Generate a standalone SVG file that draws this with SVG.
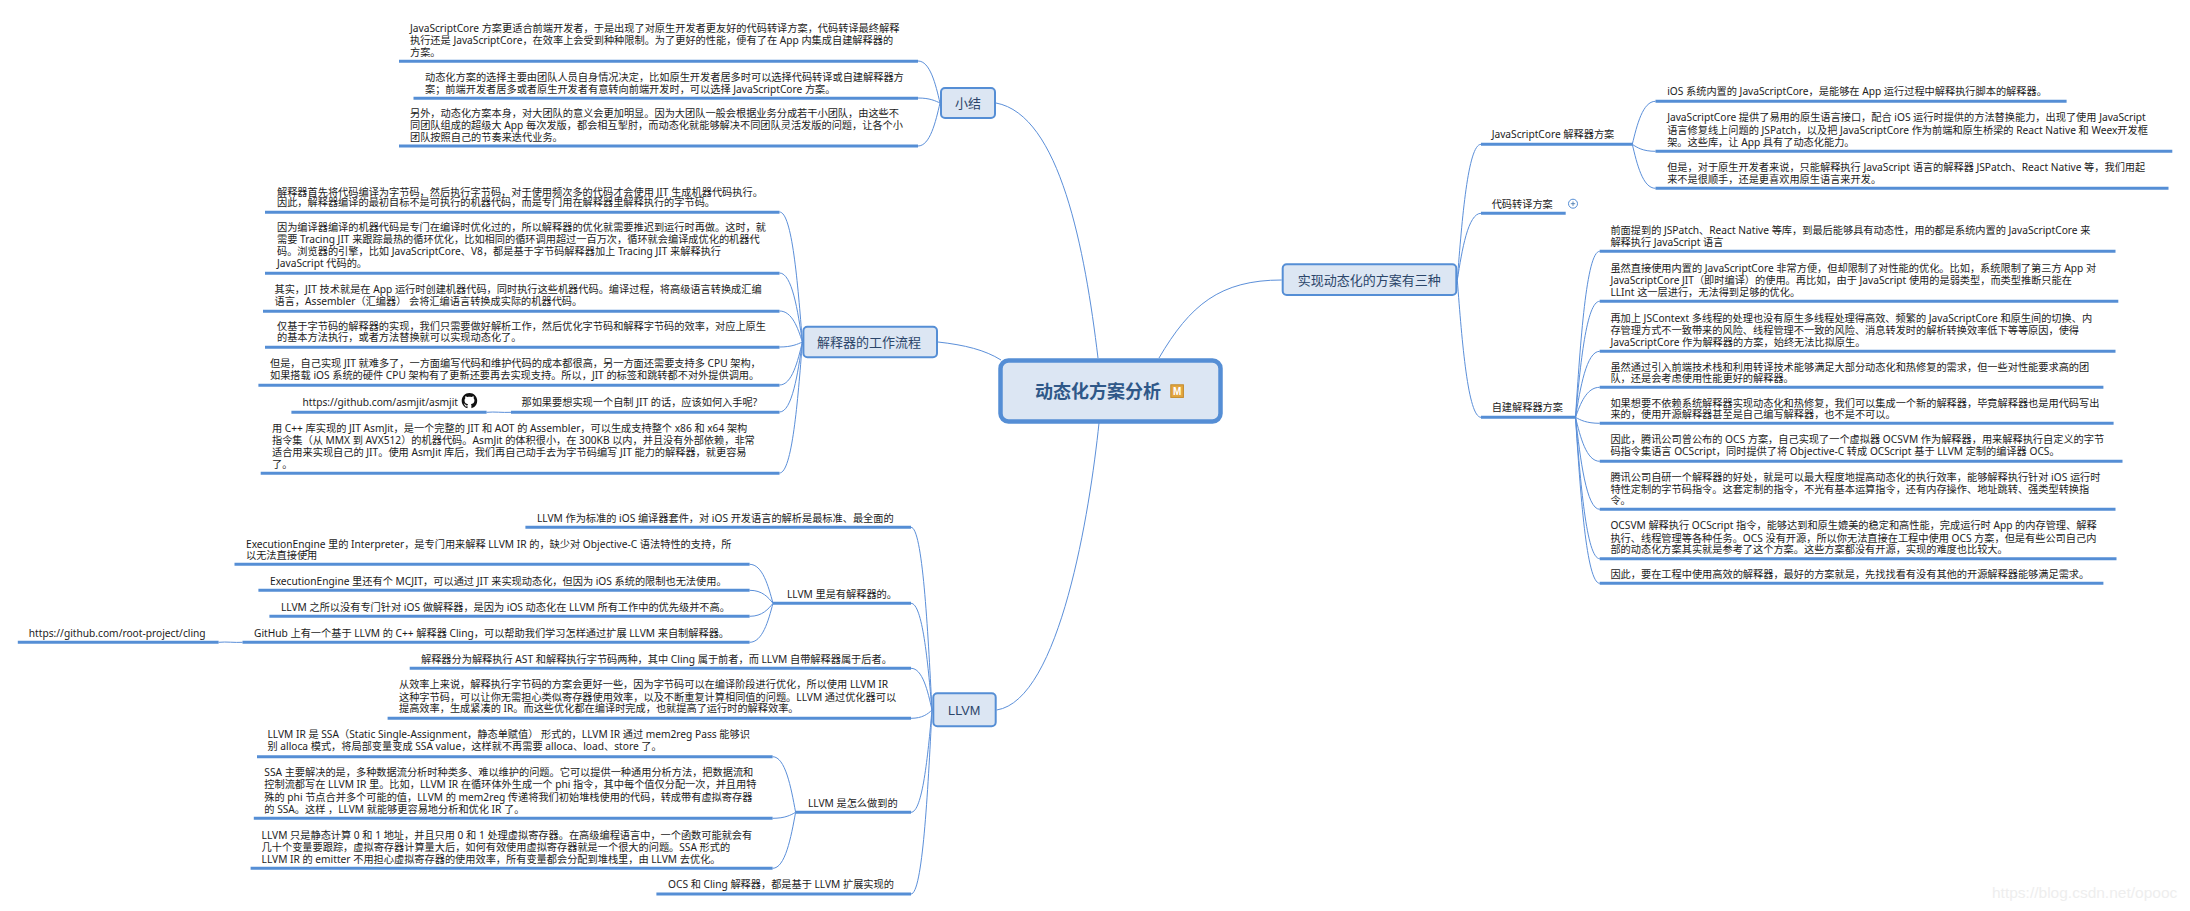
<svg xmlns="http://www.w3.org/2000/svg" width="2190" height="911" viewBox="0 0 2190 911">
<style>
text{font-family:"Liberation Sans","Noto Sans CJK SC",sans-serif}
.t{font-family:"Noto Sans","Noto Sans CJK SC",sans-serif;font-size:10.2px;fill:#1c1c1c}
.u{stroke:#558ed5;stroke-width:3;fill:none}
.c{stroke:#5b8fd9;stroke-width:1;fill:none}
.n{fill:#dce6f3;stroke:#558ed5;stroke-width:2}
.h{font-size:13px;fill:#2b4569;text-anchor:middle}
</style>
<rect width="2190" height="911" fill="#fff"/>
<g id="connectors">
<path class="c" d="M1098 358C1085 250 1060 115 996 103"/>
<path class="c" d="M1001 360C985 350 965 345 938 342"/>
<path class="c" d="M1159 358C1190 305 1220 280 1281.7 280"/>
<path class="c" d="M1099 423C1090 510 1060 700 996.7 710"/>
<path class="c" d="M940 103C935.6 84 930 61 918 61"/>
<path class="c" d="M940 103C935.6 101 930 98 918 98"/>
<path class="c" d="M940 103C935.6 122 930 146 918 146"/>
<path class="c" d="M802.4 342C797.8 283.5 792.1 212 779.5 212"/>
<path class="c" d="M802.4 342C797.8 311 792.1 273 779.5 273"/>
<path class="c" d="M802.4 342C797.8 328 792.1 311 779.5 311"/>
<path class="c" d="M802.4 342C797.8 344 792.1 347 779.5 347"/>
<path class="c" d="M802.4 342C797.8 361 792.1 385 779.5 385"/>
<path class="c" d="M802.4 342C797.8 373.5 792.1 412 779.5 412"/>
<path class="c" d="M802.4 342C797.8 401 792.1 473 779.5 473"/>
<path class="c" d="M486.6 412.3C495 411.5 502 412.8 511 412.3"/>
<path class="c" d="M932 710C927.8 628 922.5 527.3 911 527.3"/>
<path class="c" d="M932 710C927.8 662 922.5 603.3 911 603.3"/>
<path class="c" d="M932 710C927.8 691 922.5 668.3 911 668.3"/>
<path class="c" d="M932 710C927.8 714 922.5 718.3 911 718.3"/>
<path class="c" d="M932 710C927.8 756 922.5 812.3 911 812.3"/>
<path class="c" d="M932 710C927.8 793 922.5 894 911 894"/>
<path class="c" d="M773 603.3C768.3 586 762.5 564.3 749.6 564.3"/>
<path class="c" d="M773 603.3C768.3 597.5 762.5 590.3 749.6 590.3"/>
<path class="c" d="M773 603.3C768.3 609 762.5 616.3 749.6 616.3"/>
<path class="c" d="M773 603.3C768.3 621 762.5 642.3 749.6 642.3"/>
<path class="c" d="M218.6 642.3C227 641.5 234 642.8 242.5 642.3"/>
<path class="c" d="M795.6 812.3C791 787 785.2 756.7 772.6 756.7"/>
<path class="c" d="M795.6 812.3C791 815 785.2 818.3 772.6 818.3"/>
<path class="c" d="M795.6 812.3C791 837.5 785.2 868.3 772.6 868.3"/>
<path class="c" d="M1457.3 280C1462 219 1468 144.3 1481 144.3"/>
<path class="c" d="M1457.3 280C1462 250 1468 213.3 1481 213.3"/>
<path class="c" d="M1457.3 280C1462 342 1468 417.3 1481 417.3"/>
<path class="c" d="M1632.3 144.3C1637 125 1642.7 101.3 1655.5 101.3"/>
<path class="c" d="M1632.3 144.3C1637 147.5 1642.7 151.3 1655.5 151.3"/>
<path class="c" d="M1632.3 144.3C1637 164 1642.7 188.3 1655.5 188.3"/>
<path class="c" d="M1575.5 417.3C1580.3 343 1586.4 251.3 1599.7 251.3"/>
<path class="c" d="M1575.5 417.3C1580.3 365 1586.4 301.3 1599.7 301.3"/>
<path class="c" d="M1575.5 417.3C1580.3 388 1586.4 351.3 1599.7 351.3"/>
<path class="c" d="M1575.5 417.3C1580.3 404 1586.4 387.3 1599.7 387.3"/>
<path class="c" d="M1575.5 417.3C1580.3 420 1586.4 423.3 1599.7 423.3"/>
<path class="c" d="M1575.5 417.3C1580.3 437 1586.4 461.3 1599.7 461.3"/>
<path class="c" d="M1575.5 417.3C1580.3 459 1586.4 509.3 1599.7 509.3"/>
<path class="c" d="M1575.5 417.3C1580.3 481 1586.4 558.7 1599.7 558.7"/>
<path class="c" d="M1575.5 417.3C1580.3 492 1586.4 583.3 1599.7 583.3"/>
</g>
<g id="root"><rect x="1000.5" y="360.5" width="220" height="61" rx="8" fill="#dce6f3" stroke="#558ed5" stroke-width="4.5"/><text x="1098" y="398" font-size="18" font-weight="700" fill="#2f5888" text-anchor="middle">动态化方案分析</text><rect x="1170.8" y="384.8" width="12.6" height="12.6" fill="#e3a63f" stroke="#c48a28"/><text x="1177.1" y="395" font-size="10" font-weight="700" fill="#fff" text-anchor="middle">M</text></g>
<g id="xiaojie"><rect class="n" x="941" y="88" width="54" height="30" rx="4"/><text class="h" x="968" y="107.5">小结</text></g>
<g id="xj1"><text class="t"><tspan x="410" y="32">JavaScriptCore 方案更适合前端开发者，于是出现了对原生开发者更友好的代码转译方案，代码转译最终解释</tspan><tspan x="410" y="44">执行还是 JavaScriptCore，在效率上会受到种种限制。为了更好的性能，便有了在 App 内集成自建解释器的</tspan><tspan x="410" y="56">方案。</tspan></text><line class="u" x1="399" y1="61.3" x2="918" y2="61.3"/></g>
<g id="xj2"><text class="t"><tspan x="425" y="81">动态化方案的选择主要由团队人员自身情况决定，比如原生开发者居多时可以选择代码转译或自建解释器方</tspan><tspan x="425" y="92.5">案；前端开发者居多或者原生开发者有意转向前端开发时，可以选择 JavaScriptCore 方案。</tspan></text><line class="u" x1="413.5" y1="98.3" x2="918" y2="98.3"/></g>
<g id="xj3"><text class="t"><tspan x="410" y="117">另外，动态化方案本身，对大团队的意义会更加明显。因为大团队一般会根据业务分成若干小团队，由这些不</tspan><tspan x="410" y="129">同团队组成的超级大 App 每次发版，都会相互掣肘，而动态化就能够解决不同团队灵活发版的问题，让各个小</tspan><tspan x="410" y="141">团队按照自己的节奏来迭代业务。</tspan></text><line class="u" x1="399" y1="146" x2="918" y2="146"/></g>
<g id="jieshi"><rect class="n" x="803.4" y="326.7" width="133.6" height="30.6" rx="4"/><text class="h" x="869" y="347">解释器的工作流程</text></g>
<g id="js1"><text class="t"><tspan x="277" y="195.5">解释器首先将代码编译为字节码，然后执行字节码，对于使用频次多的代码才会使用 JIT 生成机器代码执行。</tspan><tspan x="277" y="206">因此，解释器编译的最初目标不是可执行的机器代码，而是专门用在解释器里解释执行的字节码。</tspan></text><line class="u" x1="265" y1="212.3" x2="779.5" y2="212.3"/></g>
<g id="js2"><text class="t"><tspan x="277" y="231">因为编译器编译的机器代码是专门在编译时优化过的，所以解释器的优化就需要推迟到运行时再做。这时，就</tspan><tspan x="277" y="243">需要 Tracing JIT 来跟踪最热的循环优化，比如相同的循环调用超过一百万次，循环就会编译成优化的机器代</tspan><tspan x="277" y="255">码。浏览器的引擎，比如 JavaScriptCore、V8，都是基于字节码解释器加上 Tracing JIT 来解释执行</tspan><tspan x="277" y="267">JavaScript 代码的。</tspan></text><line class="u" x1="265" y1="273.3" x2="779.5" y2="273.3"/></g>
<g id="js3"><text class="t"><tspan x="274.5" y="293">其实，JIT 技术就是在 App 运行时创建机器代码，同时执行这些机器代码。编译过程，将高级语言转换成汇编</tspan><tspan x="274.5" y="305">语言，Assembler（汇编器） 会将汇编语言转换成实际的机器代码。</tspan></text><line class="u" x1="263" y1="311.3" x2="779.5" y2="311.3"/></g>
<g id="js4"><text class="t"><tspan x="277" y="330">仅基于字节码的解释器的实现，我们只需要做好解析工作，然后优化字节码和解释字节码的效率，对应上原生</tspan><tspan x="277" y="341">的基本方法执行，或者方法替换就可以实现动态化了。</tspan></text><line class="u" x1="265" y1="347.3" x2="779.5" y2="347.3"/></g>
<g id="js5"><text class="t"><tspan x="270" y="367">但是，自己实现 JIT 就难多了，一方面编写代码和维护代码的成本都很高，另一方面还需要支持多 CPU 架构，</tspan><tspan x="270" y="379">如果搭载 iOS 系统的硬件 CPU 架构有了更新还要再去实现支持。所以，JIT 的标签和跳转都不对外提供调用。</tspan></text><line class="u" x1="258.4" y1="385.3" x2="779.5" y2="385.3"/></g>
<g id="js6"><text class="t" x="521.5" y="406">那如果要想实现一个自制 JIT 的话，应该如何入手呢?</text><line class="u" x1="511" y1="412.3" x2="779.5" y2="412.3"/></g>
<g id="asmjit"><text class="t" x="302.5" y="406">https://github.com/asmjit/asmjit</text><path transform="translate(461.7 393) scale(.97)" fill="#111" d="M8 0C3.58 0 0 3.58 0 8c0 3.54 2.29 6.53 5.47 7.59.4.07.55-.17.55-.38 0-.19-.01-.82-.01-1.49-2.01.37-2.53-.49-2.69-.94-.09-.23-.48-.94-.82-1.13-.28-.15-.68-.52-.01-.53.63-.01 1.08.58 1.23.82.72 1.21 1.87.87 2.33.66.07-.52.28-.87.51-1.07-1.78-.2-3.64-.89-3.64-3.95 0-.87.31-1.59.82-2.15-.08-.2-.36-1.02.08-2.12 0 0 .67-.21 2.2.82.64-.18 1.32-.27 2-.27.68 0 1.36.09 2 .27 1.53-1.04 2.2-.82 2.2-.82.44 1.1.16 1.92.08 2.12.51.56.82 1.27.82 2.15 0 3.07-1.87 3.75-3.65 3.95.29.25.54.73.54 1.48 0 1.07-.01 1.93-.01 2.2 0 .21.15.46.55.38A8.013 8.013 0 0016 8c0-4.42-3.58-8-8-8z"/><line class="u" x1="291.4" y1="412.3" x2="486.6" y2="412.3"/></g>
<g id="js7"><text class="t"><tspan x="272" y="432">用 C++ 库实现的 JIT AsmJit，是一个完整的 JIT 和 AOT 的 Assembler，可以生成支持整个 x86 和 x64 架构</tspan><tspan x="272" y="444">指令集（从 MMX 到 AVX512）的机器代码。AsmJit 的体积很小，在 300KB 以内，并且没有外部依赖，非常</tspan><tspan x="272" y="456">适合用来实现自己的 JIT。使用 AsmJit 库后，我们再自己动手去为字节码编写 JIT 能力的解释器，就更容易</tspan><tspan x="272" y="468">了。</tspan></text><line class="u" x1="260.7" y1="473.3" x2="779.5" y2="473.3"/></g>
<g id="llvm"><rect class="n" x="933.3" y="693.3" width="62.4" height="33" rx="4"/><text class="h" x="964.2" y="714.5" style="font-size:12.7px">LLVM</text></g>
<g id="l1"><text class="t" x="537" y="522">LLVM 作为标准的 iOS 编译器套件，对 iOS 开发语言的解析是最标准、最全面的</text><line class="u" x1="525.4" y1="527.3" x2="911" y2="527.3"/></g>
<g id="l2"><text class="t" x="787" y="597.7">LLVM 里是有解释器的。</text><line class="u" x1="773" y1="603.3" x2="911" y2="603.3"/></g>
<g id="l21"><text class="t"><tspan x="246" y="548">ExecutionEngine 里的 Interpreter，是专门用来解释 LLVM IR 的，缺少对 Objective-C 语法特性的支持，所</tspan><tspan x="246" y="559">以无法直接使用</tspan></text><line class="u" x1="234.5" y1="564.3" x2="749.6" y2="564.3"/></g>
<g id="l22"><text class="t" x="270" y="584.5">ExecutionEngine 里还有个 MCJIT，可以通过 JIT 来实现动态化，但因为 iOS 系统的限制也无法使用。</text><line class="u" x1="258.4" y1="590.3" x2="749.6" y2="590.3"/></g>
<g id="l23"><text class="t" x="281" y="610.5">LLVM 之所以没有专门针对 iOS 做解释器，是因为 iOS 动态化在 LLVM 所有工作中的优先级并不高。</text><line class="u" x1="269.4" y1="616.3" x2="749.6" y2="616.3"/></g>
<g id="l24"><text class="t" x="254" y="636.5">GitHub 上有一个基于 LLVM 的 C++ 解释器 Cling，可以帮助我们学习怎样通过扩展 LLVM 来自制解释器。</text><line class="u" x1="242.5" y1="642.3" x2="749.6" y2="642.3"/></g>
<g id="cling"><text class="t" x="28.8" y="636.5">https://github.com/root-project/cling</text><line class="u" x1="17.8" y1="642.3" x2="218.6" y2="642.3"/></g>
<g id="l3"><text class="t" x="421" y="663">解释器分为解释执行 AST 和解释执行字节码两种，其中 Cling 属于前者，而 LLVM 自带解释器属于后者。</text><line class="u" x1="409.7" y1="668.3" x2="911" y2="668.3"/></g>
<g id="l4"><text class="t"><tspan x="399" y="688">从效率上来说，解释执行字节码的方案会更好一些，因为字节码可以在编译阶段进行优化，所以使用 LLVM IR</tspan><tspan x="399" y="700.5">这种字节码，可以让你无需担心类似寄存器使用效率，以及不断重复计算相同值的问题。LLVM 通过优化器可以</tspan><tspan x="399" y="712">提高效率，生成紧凑的 IR。而这些优化都在编译时完成，也就提高了运行时的解释效率。</tspan></text><line class="u" x1="387.6" y1="718.3" x2="911" y2="718.3"/></g>
<g id="l5"><text class="t" x="808" y="806.5">LLVM 是怎么做到的</text><line class="u" x1="795.6" y1="812.3" x2="911" y2="812.3"/></g>
<g id="l51"><text class="t"><tspan x="267.5" y="738">LLVM IR 是 SSA（Static Single-Assignment，静态单赋值） 形式的，LLVM IR 通过 mem2reg Pass 能够识</tspan><tspan x="267.5" y="750">别 alloca 模式，将局部变量变成 SSA value，这样就不再需要 alloca、load、store 了。</tspan></text><line class="u" x1="257" y1="756.7" x2="772.6" y2="756.7"/></g>
<g id="l52"><text class="t"><tspan x="264.3" y="776">SSA 主要解决的是，多种数据流分析时种类多、难以维护的问题。它可以提供一种通用分析方法，把数据流和</tspan><tspan x="264.3" y="788">控制流都写在 LLVM IR 里。比如，LLVM IR 在循环体外生成一个 phi 指令，其中每个值仅分配一次，并且用特</tspan><tspan x="264.3" y="800.5">殊的 phi 节点合并多个可能的值，LLVM 的 mem2reg 传递将我们初始堆栈使用的代码，转成带有虚拟寄存器</tspan><tspan x="264.3" y="812.5">的 SSA。这样 ，LLVM 就能够更容易地分析和优化 IR 了。</tspan></text><line class="u" x1="253.8" y1="818.3" x2="772.6" y2="818.3"/></g>
<g id="l53"><text class="t"><tspan x="261.6" y="838.5">LLVM 只是静态计算 0 和 1 地址，并且只用 0 和 1 处理虚拟寄存器。在高级编程语言中，一个函数可能就会有</tspan><tspan x="261.6" y="850.5">几十个变量要跟踪，虚拟寄存器计算量大后，如何有效使用虚拟寄存器就是一个很大的问题。SSA 形式的</tspan><tspan x="261.6" y="862.5">LLVM IR 的 emitter 不用担心虚拟寄存器的使用效率，所有变量都会分配到堆栈里，由 LLVM 去优化。</tspan></text><line class="u" x1="250.6" y1="868.3" x2="772.6" y2="868.3"/></g>
<g id="l6"><text class="t" x="668" y="888">OCS 和 Cling 解释器，都是基于 LLVM 扩展实现的</text><line class="u" x1="656.4" y1="894" x2="911" y2="894"/></g>
<g id="three"><rect class="n" x="1282.7" y="264.3" width="173.6" height="30.7" rx="4"/><text class="h" x="1369.3" y="284.5">实现动态化的方案有三种</text></g>
<g id="jsc"><text class="t" x="1491.7" y="138">JavaScriptCore 解释器方案</text><line class="u" x1="1481" y1="144.3" x2="1632.3" y2="144.3"/></g>
<g id="jsc1"><text class="t" x="1667.2" y="95">iOS 系统内置的 JavaScriptCore，是能够在 App 运行过程中解释执行脚本的解释器。</text><line class="u" x1="1655.5" y1="101.3" x2="2066.6" y2="101.3"/></g>
<g id="jsc2"><text class="t"><tspan x="1667.2" y="121">JavaScriptCore 提供了易用的原生语言接口，配合 iOS 运行时提供的方法替换能力，出现了使用 JavaScript</tspan><tspan x="1667.2" y="134">语言修复线上问题的 JSPatch，以及把 JavaScriptCore 作为前端和原生桥梁的 React Native 和 Weex开发框</tspan><tspan x="1667.2" y="146">架。这些库，让 App 具有了动态化能力。</tspan></text><line class="u" x1="1655.5" y1="151.3" x2="2172.3" y2="151.3"/></g>
<g id="jsc3"><text class="t"><tspan x="1667.2" y="171">但是，对于原生开发者来说，只能解释执行 JavaScript 语言的解释器 JSPatch、React Native 等，我们用起</tspan><tspan x="1667.2" y="183">来不是很顺手，还是更喜欢用原生语言来开发。</tspan></text><line class="u" x1="1655.5" y1="188.3" x2="2168.5" y2="188.3"/></g>
<g id="daima"><text class="t" x="1491.7" y="207.5">代码转译方案</text><line class="u" x1="1481" y1="213.3" x2="1565.7" y2="213.3"/><circle cx="1573" cy="203.7" r="4.5" fill="#fff" stroke="#558ed5"/><path d="M1570.8 203.7h4.4M1573 201.5v4.4" stroke="#3a6ea8" stroke-width=".8" fill="none"/></g>
<g id="zijian"><text class="t" x="1491.7" y="411">自建解释器方案</text><line class="u" x1="1481" y1="417.3" x2="1575.5" y2="417.3"/></g>
<g id="z1"><text class="t"><tspan x="1610.4" y="233.5">前面提到的 JSPatch、React Native 等库，到最后能够具有动态性，用的都是系统内置的 JavaScriptCore 来</tspan><tspan x="1610.4" y="245.5">解释执行 JavaScript 语言</tspan></text><line class="u" x1="1599.7" y1="251.3" x2="2115.5" y2="251.3"/></g>
<g id="z2"><text class="t"><tspan x="1610.4" y="271.5">虽然直接使用内置的 JavaScriptCore 非常方便，但却限制了对性能的优化。比如，系统限制了第三方 App 对</tspan><tspan x="1610.4" y="283.5">JavaScriptCore JIT（即时编译）的使用。再比如，由于 JavaScript 使用的是弱类型，而类型推断只能在</tspan><tspan x="1610.4" y="295.5">LLInt 这一层进行，无法得到足够的优化。</tspan></text><line class="u" x1="1599.7" y1="301.3" x2="2118.3" y2="301.3"/></g>
<g id="z3"><text class="t"><tspan x="1610.4" y="321.5">再加上 JSContext 多线程的处理也没有原生多线程处理得高效、频繁的 JavaScriptCore 和原生间的切换、内</tspan><tspan x="1610.4" y="333.5">存管理方式不一致带来的风险、线程管理不一致的风险、消息转发时的解析转换效率低下等等原因，使得</tspan><tspan x="1610.4" y="345.5">JavaScriptCore 作为解释器的方案，始终无法比拟原生。</tspan></text><line class="u" x1="1599.7" y1="351.3" x2="2115.5" y2="351.3"/></g>
<g id="z4"><text class="t"><tspan x="1610.4" y="370.5">虽然通过引入前端技术栈和利用转译技术能够满足大部分动态化和热修复的需求，但一些对性能要求高的团</tspan><tspan x="1610.4" y="382">队，还是会考虑使用性能更好的解释器。</tspan></text><line class="u" x1="1599.7" y1="387.3" x2="2103.4" y2="387.3"/></g>
<g id="z5"><text class="t"><tspan x="1610.4" y="406.7">如果想要不依赖系统解释器实现动态化和热修复，我们可以集成一个新的解释器，毕竟解释器也是用代码写出</tspan><tspan x="1610.4" y="418">来的，使用开源解释器甚至是自己编写解释器，也不是不可以。</tspan></text><line class="u" x1="1599.7" y1="423.3" x2="2113.6" y2="423.3"/></g>
<g id="z6"><text class="t"><tspan x="1610.4" y="443">因此，腾讯公司曾公布的 OCS 方案，自己实现了一个虚拟器 OCSVM 作为解释器，用来解释执行自定义的字节</tspan><tspan x="1610.4" y="455">码指令集语言 OCScript，同时提供了将 Objective-C 转成 OCScript 基于 LLVM 定制的编译器 OCS。</tspan></text><line class="u" x1="1599.7" y1="461.3" x2="2122.5" y2="461.3"/></g>
<g id="z7"><text class="t"><tspan x="1610.4" y="481">腾讯公司自研一个解释器的好处，就是可以最大程度地提高动态化的执行效率，能够解释执行针对 iOS 运行时</tspan><tspan x="1610.4" y="493">特性定制的字节码指令。这套定制的指令，不光有基本运算指令，还有内存操作、地址跳转、强类型转换指</tspan><tspan x="1610.4" y="504">令。</tspan></text><line class="u" x1="1599.7" y1="509.3" x2="2115.5" y2="509.3"/></g>
<g id="z8"><text class="t"><tspan x="1610.4" y="529">OCSVM 解释执行 OCScript 指令，能够达到和原生媲美的稳定和高性能，完成运行时 App 的内存管理、解释</tspan><tspan x="1610.4" y="541.5">执行、线程管理等各种任务。OCS 没有开源，所以你无法直接在工程中使用 OCS 方案，但是有些公司自己内</tspan><tspan x="1610.4" y="553">部的动态化方案其实就是参考了这个方案。这些方案都没有开源，实现的难度也比较大。</tspan></text><line class="u" x1="1599.7" y1="558.7" x2="2116.5" y2="558.7"/></g>
<g id="z9"><text class="t" x="1610.4" y="578">因此，要在工程中使用高效的解释器，最好的方案就是，先找找看有没有其他的开源解释器能够满足需求。</text><line class="u" x1="1599.7" y1="583.3" x2="2103.4" y2="583.3"/></g>
<text x="1992" y="898" font-size="15.5" fill="#eeeeee">https://blog.csdn.net/opooc</text>
</svg>
